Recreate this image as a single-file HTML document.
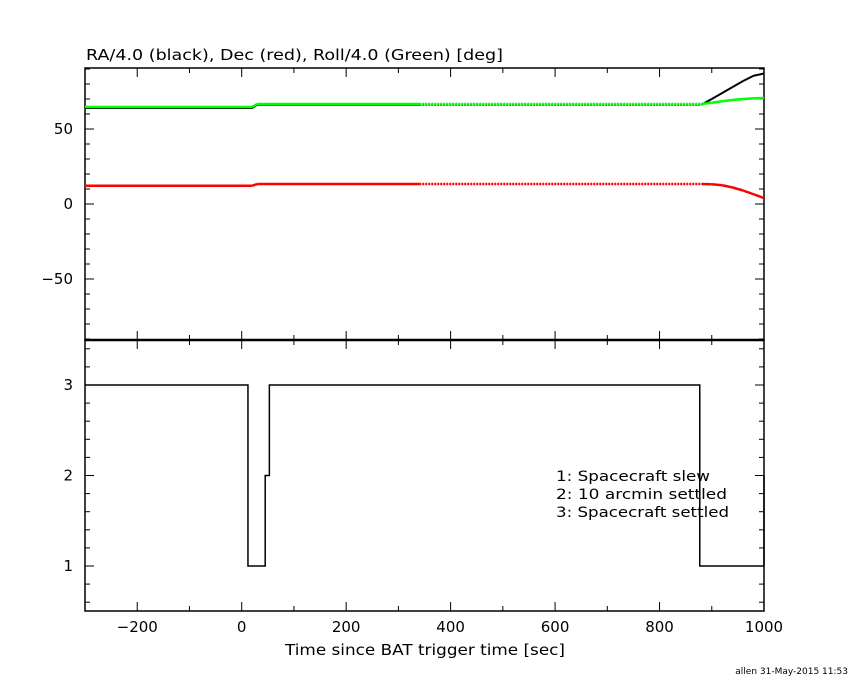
<!DOCTYPE html>
<html><head><meta charset="utf-8"><style>
html,body{margin:0;padding:0;background:#fff;}
svg{display:block;font-family:"DejaVu Sans","Liberation Sans",sans-serif;}
</style></head><body>
<svg id="chart" width="850" height="680" xmlns="http://www.w3.org/2000/svg">
<rect width="850" height="680" fill="#fff"/>
<g id="axes"></g>
<g id="series"></g>
<text x="86" y="60" font-size="15" fill="#000" textLength="417" lengthAdjust="spacingAndGlyphs">RA/4.0 (black), Dec (red), Roll/4.0 (Green) [deg]</text>
<text x="285" y="655" font-size="15" textLength="280" lengthAdjust="spacingAndGlyphs">Time since BAT trigger time [sec]</text>
<g font-size="14">
<text x="556" y="481" textLength="154" lengthAdjust="spacingAndGlyphs">1: Spacecraft slew</text>
<text x="556" y="499" textLength="171" lengthAdjust="spacingAndGlyphs">2: 10 arcmin settled</text>
<text x="556" y="517" textLength="173" lengthAdjust="spacingAndGlyphs">3: Spacecraft settled</text>
</g>
<text x="848" y="674" font-size="9" text-anchor="end">allen 31-May-2015 11:53</text>
</svg>
<script>
const times=[-300,20,30,340,880,900,920,940,960,980,1000];
const raVals=[64.0,64.0,66.2,66.2,66.2,70,74,78,82,85.5,87];
const decVals=[12.2,12.2,13.3,13.3,13.3,13.2,12.5,11,9,6.5,4];
const rollVals=[64.7,64.7,66.7,66.7,66.7,67.5,68.5,69.3,70,70.4,70.7];
const stepTimes=[-300,12,45,53,877,1000];
const stepVals=[3,1,2,3,1,2];
const xTicks=[-200,0,200,400,600,800,1000];
const topTicks=[-50,0,50];
const botTicks=[1,2,3];

const L=85,R=764,T1=68,B1=340,B2=611;
const x=t=>L+(t+300)*(R-L)/1300;
const y1=v=>204-1.5*v;
const y2=v=>385+(3-v)*90.5;
const NS="http://www.w3.org/2000/svg";
function mk(tag,attrs,parent){const e=document.createElementNS(NS,tag);for(const k in attrs)e.setAttribute(k,attrs[k]);parent.appendChild(e);return e;}
const ax=document.getElementById('axes');
const sr=document.getElementById('series');

let f1=mk('rect',{x:L,y:T1,width:R-L,height:B1-T1,fill:'none',stroke:'#000','stroke-width':1.5},ax);


let f2=mk('rect',{x:L,y:B1,width:R-L,height:B2-B1,fill:'none',stroke:'#000','stroke-width':1.5},ax);


mk('line',{x1:L,x2:R,y1:B1,y2:B1,stroke:'#000','stroke-width':2.5},ax);

for(let t=-300;t<=1000;t+=100){
  const major=t%200===0;const len=major?9:5;
  mk('line',{x1:x(t),x2:x(t),y1:B2,y2:B2-len,stroke:'#000'},ax);
  mk('line',{x1:x(t),x2:x(t),y1:T1,y2:T1+len,stroke:'#000'},ax);
  mk('line',{x1:x(t),x2:x(t),y1:B1,y2:B1-len,stroke:'#000'},ax);
  mk('line',{x1:x(t),x2:x(t),y1:B1,y2:B1+len,stroke:'#000'},ax);
}
xTicks.forEach(t=>{const e=mk('text',{x:x(t),y:B2+21,'font-size':15,'text-anchor':'middle'},ax);e.textContent=String(t).replace('-','\u2212');

});
for(let v=-90;v<=90;v+=10){const major=v%50===0;const len=major?9:5;
  mk('line',{x1:L,x2:L+len,y1:y1(v),y2:y1(v),stroke:'#000'},ax);
  mk('line',{x1:R,x2:R-len,y1:y1(v),y2:y1(v),stroke:'#000'},ax);}
topTicks.forEach(v=>{const e=mk('text',{x:L-12,y:y1(v)+5,'font-size':15,'text-anchor':'end'},ax);e.textContent=String(v).replace('-','\u2212');

});
for(let v=0.6;v<=3.45;v+=0.2){const r=Math.round(v*10)/10;const major=Math.abs(r-Math.round(r))<0.01;const len=major?9:5;
  mk('line',{x1:L,x2:L+len,y1:y2(r),y2:y2(r),stroke:'#000'},ax);
  mk('line',{x1:R,x2:R-len,y1:y2(r),y2:y2(r),stroke:'#000'},ax);}
botTicks.forEach(v=>{const e=mk('text',{x:L-12,y:y2(v)+5,'font-size':15,'text-anchor':'end'},ax);e.textContent=String(v);

});

function drawSeries(vals,color,name,w){
  for(let i=0;i<times.length-1;i++){
    const dotted=times[i]>=340&&times[i+1]<=880;
    const ln=mk('line',{x1:x(times[i]),y1:y1(vals[i]),x2:x(times[i+1]),y2:y1(vals[i+1]),stroke:color,'stroke-width':w},sr);
    if(dotted)ln.setAttribute('stroke-dasharray','2 1');
    
    
  }
}
drawSeries(raVals,'#000','ra-line',2);
drawSeries(rollVals,'#0f0','roll-line',2.5);
drawSeries(decVals,'#f00','dec-line',2.5);

let d='M'+x(stepTimes[0])+','+y2(stepVals[0]);
for(let i=1;i<stepTimes.length;i++){d+=' H'+x(stepTimes[i])+' V'+y2(stepVals[i]);}
const sp=mk('path',{d:d,fill:'none',stroke:'#000','stroke-width':1.5},sr);


</script>
</body></html>
